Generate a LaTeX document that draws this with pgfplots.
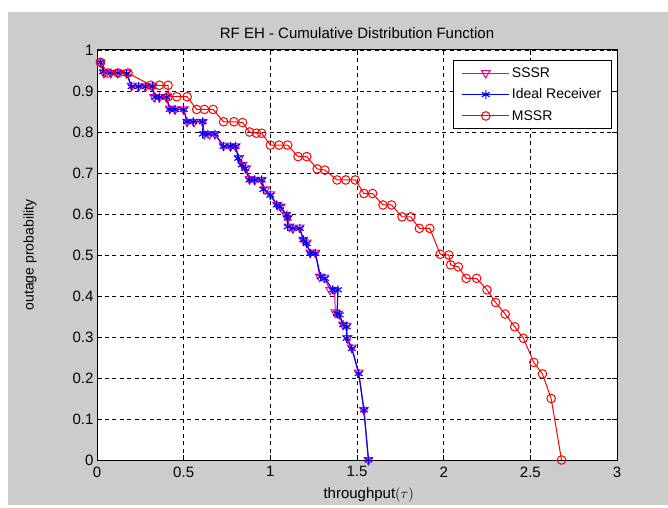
\documentclass[border=0pt]{standalone}
\usepackage{fontspec}
\setmainfont{Liberation Sans}
\usepackage{pgfplots}
\pgfplotsset{compat=1.18}
\definecolor{figgray}{RGB}{204,204,204}
\newcommand{\fs}{\fontsize{14}{16}\selectfont}
\newcommand{\fst}{\fontsize{15}{17}\selectfont}
\begin{document}
\begin{tikzpicture}[x=1pt,y=1pt]
\path[use as bounding box] (0,0) rectangle (668,507);
\fill[white] (0,0) rectangle (668,507);
\fill[figgray] (8,2) rectangle (668,495);
\begin{axis}[
  at={(97pt,47pt)}, anchor=south west,
  scale only axis, width=520pt, height=410pt,
  xmin=0, xmax=3, ymin=0, ymax=1,
  xtick={0,0.5,1,1.5,2,2.5,3},
  ytick={0,0.1,0.2,0.3,0.4,0.5,0.6,0.7,0.8,0.9,1},
  grid=major,
  major grid style={black, line width=0.7pt, dash pattern=on 4pt off 3.5pt},
  tick align=inside, major tick length=5pt,
  tick style={black, line width=0.8pt},
  axis line style={black, line width=1pt},
  axis background/.style={fill=white},
  /pgf/number format/assume math mode=true,
  tick label style={font=\fst},
  xticklabel style={yshift=-3pt},
  title={RF EH - Cumulative Distribution Function},
  title style={font=\fst, at={(axis description cs:0.5,1)}, anchor=base, yshift=5pt},
  xlabel={throughput$(\tau)$},
  xlabel style={font=\fst, at={(axis description cs:0.4288,-0.0927)}, anchor=base west},
  ylabel={outage probability},
  every axis y label/.style={font=\fs, at={(axis description cs:-0.1288,0.5)}, anchor=center, rotate=90},
  legend style={at={(rel axis cs:0.990,0.9756)}, anchor=north east, draw=black, line width=0.8pt, fill=white, font=\fs, row sep=6pt, inner xsep=8pt, inner ysep=5pt, cells={anchor=west}},
  legend image code/.code={\draw[mark repeat=2,mark phase=2] plot coordinates {(0pt,0pt) (23.5pt,0pt) (47pt,0pt)};},
]
\addplot[magenta, line width=1pt, mark=triangle, mark size=5pt, mark options={rotate=180, solid}] coordinates {
(0.02,0.97)
(0.04,0.944)(0.08,0.944)(0.12,0.944)(0.17,0.944)
(0.20,0.913)(0.24,0.911)(0.28,0.911)(0.32,0.911)
(0.33,0.885)(0.36,0.885)(0.40,0.885)
(0.42,0.857)(0.45,0.855)(0.50,0.855)
(0.52,0.825)(0.56,0.825)(0.61,0.825)
(0.62,0.795)(0.65,0.795)(0.68,0.795)
(0.73,0.767)(0.77,0.765)(0.80,0.765)
(0.82,0.736)(0.84,0.72)(0.86,0.711)
(0.88,0.685)(0.91,0.683)(0.95,0.683)
(0.97,0.66)(1.0,0.648)
(1.04,0.622)(1.06,0.618)
(1.09,0.598)(1.10,0.59)
(1.11,0.569)(1.13,0.565)(1.17,0.567)
(1.19,0.537)(1.21,0.53)
(1.23,0.506)(1.26,0.506)
(1.285,0.447)(1.31,0.445)
(1.345,0.415)(1.37,0.415)
(1.375,0.36)(1.39,0.357)
(1.42,0.33)(1.44,0.327)
(1.445,0.297)
(1.47,0.274)
(1.51,0.213)
(1.54,0.122)
(1.566,0)
};
\addlegendentry{SSSR}
\addplot[blue, line width=1.2pt, mark=asterisk, mark size=4.5pt, mark options={solid, line width=1.1pt}] coordinates {
(0.02,0.97)
(0.036,0.947)(0.08,0.944)(0.12,0.944)(0.17,0.942)
(0.20,0.911)(0.24,0.911)(0.28,0.911)(0.32,0.911)
(0.335,0.885)(0.36,0.885)(0.40,0.885)
(0.42,0.855)(0.45,0.855)(0.50,0.855)
(0.52,0.825)(0.555,0.825)(0.61,0.825)
(0.61,0.795)(0.64,0.795)(0.68,0.795)
(0.73,0.765)(0.77,0.765)(0.80,0.765)
(0.815,0.736)(0.835,0.72)(0.855,0.711)
(0.88,0.683)(0.91,0.683)(0.95,0.683)
(0.96,0.66)(1.0,0.646)
(1.037,0.622)(1.056,0.618)
(1.095,0.598)(1.10,0.59)
(1.10,0.569)(1.13,0.565)(1.17,0.565)
(1.19,0.537)(1.21,0.528)
(1.23,0.504)(1.26,0.504)
(1.29,0.447)(1.315,0.443)
(1.36,0.415)(1.39,0.415)
(1.385,0.357)(1.40,0.354)
(1.42,0.33)(1.44,0.325)
(1.44,0.297)
(1.47,0.272)
(1.51,0.211)
(1.54,0.122)
(1.566,0)
};
\addlegendentry{Ideal Receiver}
\addplot[red, line width=1pt, mark=o, mark size=4.3pt, mark options={solid}] coordinates {
(0.02,0.97)
(0.063,0.944)(0.121,0.944)(0.179,0.944)
(0.31,0.914)(0.36,0.914)(0.41,0.914)
(0.41,0.886)(0.46,0.886)(0.52,0.886)
(0.575,0.855)(0.62,0.855)(0.67,0.855)
(0.73,0.825)(0.79,0.825)(0.84,0.823)
(0.88,0.80)(0.92,0.797)(0.95,0.797)
(1.0,0.768)(1.05,0.768)(1.10,0.768)
(1.16,0.74)(1.21,0.74)
(1.27,0.71)(1.315,0.707)
(1.385,0.683)(1.435,0.683)(1.49,0.683)
(1.54,0.65)(1.59,0.65)
(1.65,0.622)(1.70,0.622)
(1.76,0.593)(1.81,0.593)
(1.86,0.565)(1.92,0.565)
(1.98,0.502)(2.03,0.50)
(2.04,0.476)(2.085,0.471)
(2.13,0.443)(2.19,0.443)
(2.25,0.415)
(2.30,0.384)
(2.355,0.356)
(2.41,0.325)
(2.46,0.297)
(2.52,0.238)
(2.57,0.21)
(2.62,0.15)
(2.68,0)
};
\addlegendentry{MSSR}
\end{axis}
\end{tikzpicture}
\end{document}
